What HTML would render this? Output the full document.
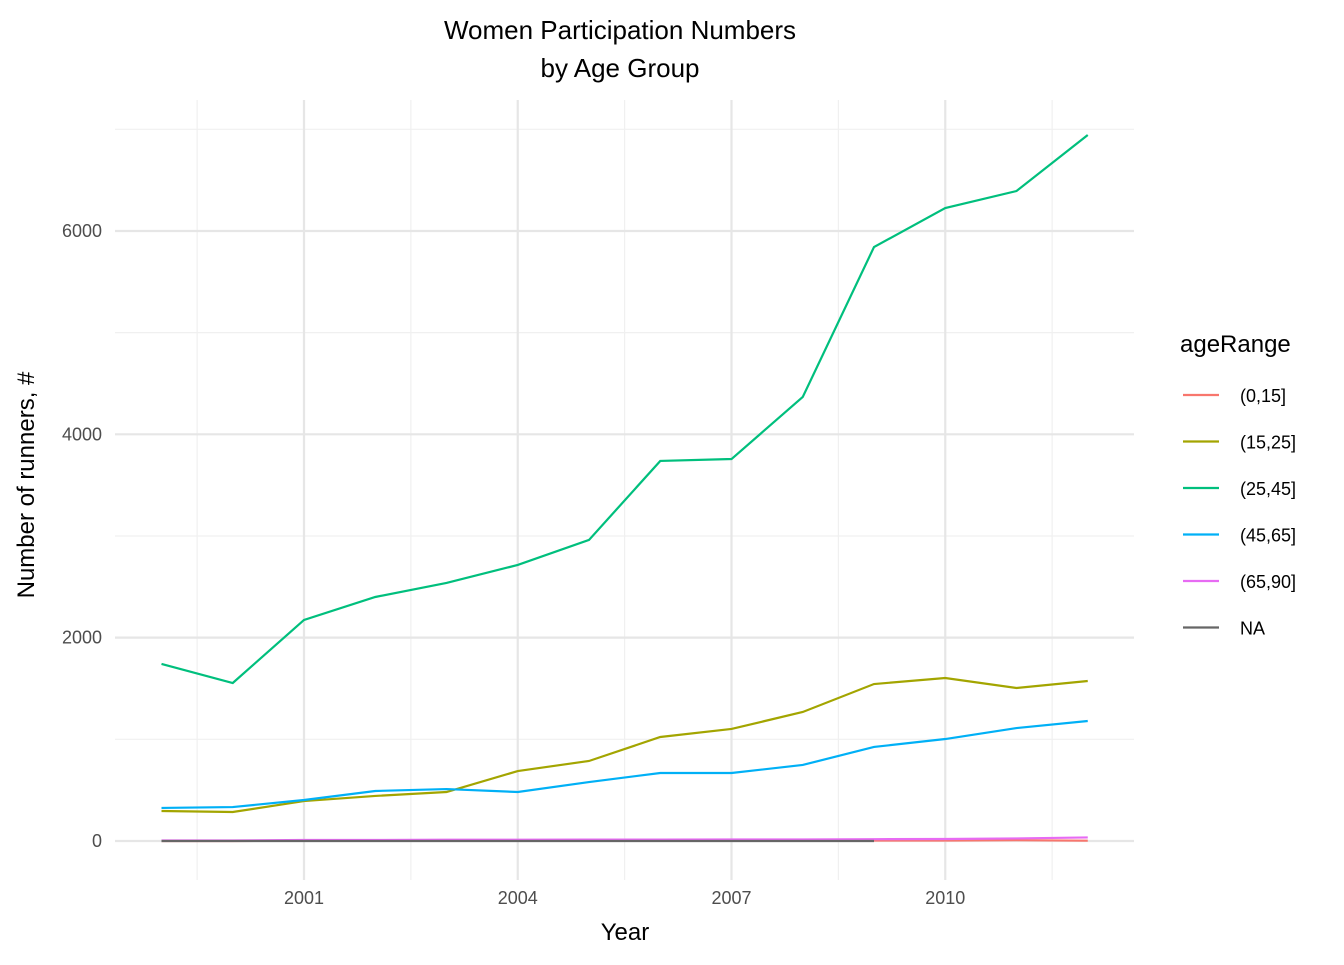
<!DOCTYPE html>
<html><head><meta charset="utf-8"><style>
body{margin:0;background:#fff;}
svg text{font-family:"Liberation Sans",Arial,sans-serif;}
</style></head><body>
<svg id="chart" width="1344" height="960">
<g id="grid"></g><g id="lines"></g><g id="axes"></g>
<text x="620" y="39" text-anchor="middle" font-size="26" fill="#000">Women Participation Numbers</text>
<text x="620" y="77" text-anchor="middle" font-size="26" fill="#000">by Age Group</text>
<text x="625" y="940" text-anchor="middle" font-size="24" fill="#000">Year</text>
<text transform="translate(34,485) rotate(-90)" text-anchor="middle" font-size="24" fill="#000">Number of runners, #</text>
<g id="legend"></g>
</svg>
<script>
const years=[1999,2000,2001,2002,2003,2004,2005,2006,2007,2008,2009,2010,2011,2012];
const seriesNames=["(0,15]","(15,25]","(25,45]","(45,65]","(65,90]","NA"];
const colors=["#F8766D","#A3A500","#00BF7D","#00B0F6","#E76BF3","#666666"];
const s0_15=[0,0,2,2,3,3,3,3,3,3,5,5,8,3];
const s15_25=[295,285,393,443,482,688,787,1023,1102,1269,1544,1603,1505,1574];
const s25_45=[1741,1554,2174,2400,2538,2715,2961,3738,3757,4367,5842,6226,6393,6944];
const s45_65=[325,334,403,492,511,482,580,669,669,748,925,1003,1111,1180];
const s65_90=[5,5,10,10,12,12,14,14,15,15,18,20,25,35];
const sNA=[0,0,0,0,0,0,0,0,0,0,0];
const xTicks=[2001,2004,2007,2010];
const yTicks=[0,2000,4000,6000];
const allSeries=[s0_15,s15_25,s25_45,s45_65,s65_90,sNA];
const NS="http://www.w3.org/2000/svg";
const X=v=>304+(v-2001)*71.25;
const Y=v=>841-v*0.10167;
const L=115,R=1134,T=100,B=880;
function mk(tag,attrs,parent){const e=document.createElementNS(NS,tag);for(const k in attrs)e.setAttribute(k,attrs[k]);parent.appendChild(e);return e;}
const grid=document.getElementById('grid'),axes=document.getElementById('axes'),lines=document.getElementById('lines'),leg=document.getElementById('legend');
for(let v=1000;v<=7000;v+=2000){const l=mk('line',{x1:L,x2:R,y1:Y(v),y2:Y(v),stroke:'#f0f0f0','stroke-width':1.2},grid);

}
for(let v=1999.5;v<2012;v+=3){const l=mk('line',{x1:X(v),x2:X(v),y1:T,y2:B,stroke:'#f0f0f0','stroke-width':1.2},grid);

}
yTicks.forEach(v=>{const l=mk('line',{x1:L,x2:R,y1:Y(v),y2:Y(v),stroke:'#e6e6e6','stroke-width':2.2},grid);


const t=mk('text',{x:102,y:Y(v)+6,'text-anchor':'end','font-size':18,fill:'#4d4d4d'},axes);t.textContent=v;

});
xTicks.forEach(v=>{const l=mk('line',{x1:X(v),x2:X(v),y1:T,y2:B,stroke:'#e6e6e6','stroke-width':2.2},grid);


const t=mk('text',{x:X(v),y:904,'text-anchor':'middle','font-size':18,fill:'#4d4d4d'},axes);t.textContent=v;

});
allSeries.forEach((s,i)=>{const pts=s.map((v,j)=>X(years[j])+','+Y(v)).join(' ');
const p=mk('polyline',{points:pts,fill:'none',stroke:colors[i],'stroke-width':2.2},lines);

});
const tt=mk('text',{x:1180,y:352,'font-size':24,fill:'#000'},leg);tt.textContent='ageRange';


seriesNames.forEach((n,i)=>{const y=395+i*46.5;
const g=mk('g',{},leg);


mk('line',{x1:1183,x2:1219,y1:y,y2:y,stroke:colors[i],'stroke-width':2.2},g);
const t=mk('text',{x:1240,y:y+7,'font-size':18,fill:'#000'},g);t.textContent=n;});
</script>
</body></html>
